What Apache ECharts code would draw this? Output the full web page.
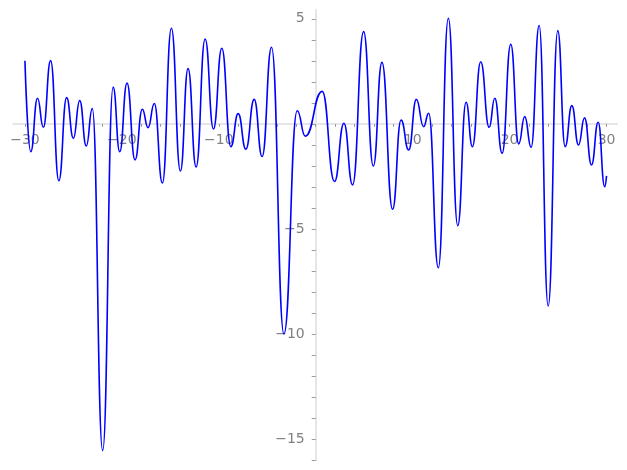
<!DOCTYPE html>
<html>
<head>
<meta charset="utf-8">
<script src="https://cdn.jsdelivr.net/npm/echarts@6/dist/echarts.min.js"></script>
<style>
html,body{margin:0;padding:0;background:#fff;}
#chart{width:627px;height:470px;}
</style>
</head>
<body>
<div id="chart"></div>
<script>
// Extrema of the curve
var xValues = [-30, -29.4, -28.7, -28.1, -27.35, -26.5, -25.7, -25.0, -24.35, -23.67, -23.05, -21.98, -20.9,
  -20.22, -19.47, -18.64, -17.89, -17.3, -16.65, -15.82, -14.89, -13.96, -13.17, -12.34, -11.41, -10.55,
  -9.69, -8.76, -8.0, -7.21, -6.35, -5.53, -4.56, -3.28, -1.91, -1.08, 0.67, 1.94, 2.91, 3.80, 4.94, 5.94,
  6.83, 7.93, 8.80, 9.59, 10.38, 11.13, 11.65, 12.65, 13.68, 14.65, 15.51, 16.16, 17.02, 17.89, 18.47,
  19.23, 20.12, 20.94, 21.56, 22.22, 23.05, 23.98, 24.97, 25.73, 26.42, 27.11, 27.73, 28.45, 29.14, 29.81, 30];
var yValues = [3.01, -1.32, 1.22, -0.16, 3.01, -2.70, 1.25, -0.68, 1.11, -1.05, 0.73, -15.54, 1.75,
  -1.32, 1.94, -1.71, 0.70, -0.18, 0.97, -2.81, 4.55, -2.24, 2.63, -2.05, 4.04, -0.24,
  3.60, -1.08, 0.49, -1.20, 1.17, -1.55, 3.65, -9.99, 0.63, -0.58, 1.55, -2.74, 0.03, -2.90, 4.39, -2.0,
  2.93, -4.06, 0.19, -1.24, 1.17, -0.13, 0.51, -6.84, 5.03, -4.84, 1.03, -1.08, 2.96, -0.16, 1.22,
  -1.39, 3.79, -0.95, 0.35, -1.11, 4.68, -8.66, 4.44, -1.08, 0.87, -1.0, 0.29, -1.95, 0.08, -2.98, -2.47];

var xTickValues = [-30, -28, -26, -24, -22, -20, -18, -16, -14, -12, -10, -8, -6, -4, -2, 0, 2, 4, 6, 8, 10,
  12, 14, 16, 18, 20, 22, 24, 26, 28, 30];
var xLabelValues = [-30, -20, -10, 10, 20, 30];
var yTickValues = [-16, -15, -14, -13, -12, -11, -10, -9, -8, -7, -6, -5, -4, -3, -2, -1, 0, 1, 2, 3, 4, 5];
var yLabelValues = [-15, -10, -5, 5];

var points = xValues.map(function (x, i) { return [x, yValues[i]]; });

function fmt(v) {
  return v < 0 ? '\u2212' + Math.abs(v) : String(v);
}

var W = 627, H = 470;
var grid = {left: 13.3, right: 9.8, top: 10, bottom: 9.7};
var xMin = -31.2, xMax = 31.1, yMin = -16, yMax = 5.42;
var gridW = W - grid.left - grid.right;
var gridH = H - grid.top - grid.bottom;
// place the axes through the origin (axes cross at zero)
var xAxisOffset = -gridH * (0 - yMin) / (yMax - yMin);
var yAxisOffset = -gridW * (0 - xMin) / (xMax - xMin);

var chart = echarts.init(document.getElementById('chart'), null, {renderer: 'canvas'});
chart.setOption({
  animation: false,
  backgroundColor: '#ffffff',
  grid: {left: grid.left, right: grid.right, top: grid.top, bottom: grid.bottom, containLabel: false, outerBoundsMode: 'none'},
  xAxis: {
    type: 'value',
    min: xMin,
    max: xMax,
    position: 'bottom',
    offset: xAxisOffset,
    splitLine: {show: false},
    axisLine: {show: true, onZero: false, lineStyle: {color: '#e6e6e6', width: 2}},
    axisTick: {show: true, customValues: xTickValues, length: 3, lineStyle: {color: '#9a9a9a', width: 1}},
    axisLabel: {
      customValues: xLabelValues,
      formatter: fmt,
      color: '#808080',
      fontSize: 14,
      fontFamily: 'DejaVu Sans',
      margin: 9
    }
  },
  yAxis: {
    type: 'value',
    min: yMin,
    max: yMax,
    position: 'left',
    offset: yAxisOffset,
    splitLine: {show: false},
    axisLine: {show: true, onZero: false, lineStyle: {color: '#e6e6e6', width: 2}},
    axisTick: {show: true, customValues: yTickValues, length: 4, lineStyle: {color: '#9a9a9a', width: 1}},
    axisLabel: {
      customValues: yLabelValues,
      formatter: fmt,
      color: '#808080',
      fontSize: 14,
      fontFamily: 'DejaVu Sans',
      margin: 11
    }
  },
  series: [{
    type: 'line',
    data: points,
    smooth: 0.5,
    smoothMonotone: 'x',
    showSymbol: false,
    symbol: 'none',
    lineStyle: {color: '#0000ff', width: 1.6},
    z: 5
  }]
});
</script>
</body>
</html>
